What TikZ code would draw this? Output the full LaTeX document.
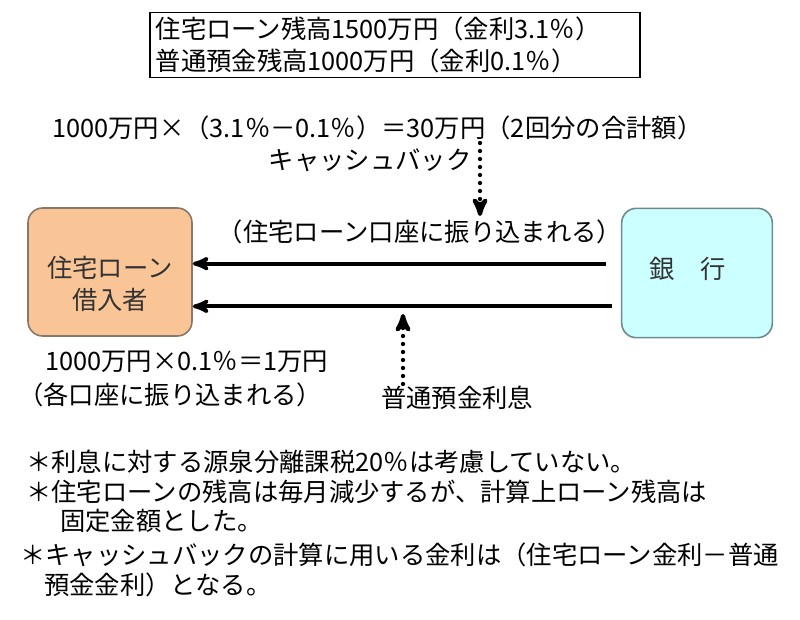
\documentclass[tikz,border=0pt]{standalone}
\usepackage{fontspec}
\setmainfont{Noto Sans CJK JP}
\usetikzlibrary{positioning, arrows}
\definecolor{loanfill}{HTML}{F9C596}
\definecolor{loanline}{HTML}{8A7866}
\definecolor{bankfill}{HTML}{CCFFFF}
\definecolor{bankline}{HTML}{6F8C8C}
\tikzset{
x=0.75pt, y=-0.75pt, % one unit is one pixel of the picture, y runs down
>=stealth', % makes the arrow heads bold
every node/.style={font=\fontsize{19pt}{24pt}\selectfont, inner sep=0pt}, % text size of all labels
party/.style={draw, rounded corners=11pt, line width=1.2pt}, % the two parties
flow/.style={->, line width=2.8pt}, % money transfers
hint/.style={->, line width=3.2pt, dash pattern=on 0pt off 6pt, line cap=round}, % dotted pointers
}

\begin{document}
\begin{tikzpicture}
    \useasboundingbox (0,0) rectangle (800,620);
    \node[draw, line width=1pt, minimum width=367.5pt, minimum height=49pt, inner xsep=4pt, text width=359pt, align=left] (balance) at (395,45) {住宅ローン残高1500万円（金利3.1％）\\[0pt]普通預金残高1000万円（金利0.1％）};
    \node[anchor=west] (formula) at (52,128) {1000万円×（3.1％－0.1％）＝30万円（2回分の合計額）};
    \node (cashback) at (370,160) {キャッシュバック};
    \node (loanacct) at (420,232) {（住宅ローン口座に振り込まれる）};
    \node[party, fill=loanfill, draw=loanline, minimum width=123pt, minimum height=96pt,
        label={[align=center, text=black!80, yshift=-9pt]center:住宅ローン\\借入者}] (borrower) at (110,272) {};
    \node[party, fill=bankfill, draw=bankline, minimum width=113pt, minimum height=97pt,
        label={[text=black!80, xshift=-7pt, yshift=3pt]center:銀　行}] (bank) at (697,273) {};
    \node[anchor=west] (interest) at (45,362) {1000万円×0.1％＝1万円};
    \node[anchor=west] (eachacct) at (18,395) {（各口座に振り込まれる）};
    \node (savings) at (457,398) {普通預金利息};
    \node[anchor=west] (note1) at (26,462) {＊利息に対する源泉分離課税20％は考慮していない。};
    \node[anchor=west] (note2) at (26,492) {＊住宅ローンの残高は毎月減少するが、計算上ローン残高は};
    \node[anchor=west] (note3) at (60,521) {固定金額とした。};
    \node[anchor=west] (note4) at (20,555) {＊キャッシュバックの計算に用いる金利は（住宅ローン金利－普通};
    \node[anchor=west] (note5) at (44,585) {預金金利）となる。};
    \coordinate (cbtop) at (480,143);
    \coordinate (cbtip) at (480,216);
    \coordinate (svbottom) at (403,384);
    \coordinate (svtip) at (403,314);
    \draw[flow] ([xshift=-11pt, yshift=7pt]bank.west) -- ([yshift=7pt]bank.west -| borrower.east);
    \draw[flow] ([xshift=-7pt, yshift=-25pt]bank.west) -- ([yshift=-25pt]bank.west -| borrower.east);
    \draw[hint] (cbtop) -- (cbtip);
    \draw[hint] (svbottom) -- (svtip);
\end{tikzpicture}
\end{document}
